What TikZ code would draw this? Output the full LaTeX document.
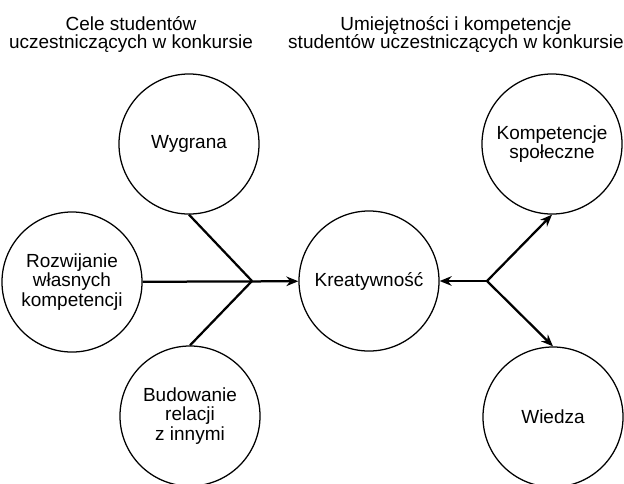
\documentclass[tikz,border=0pt]{standalone}
\usepackage{fontspec}
\setmainfont{Liberation Sans}
\usetikzlibrary{arrows.meta,positioning}

\begin{document}
\begin{tikzpicture}[
    x=0.025cm, y=-0.025cm,
    goal/.style={circle, draw, line width=0.9pt, minimum size=3.5cm, inner sep=0pt, align=center, font=\fontsize{13.5}{13.8}\selectfont},
    title/.style={align=center, font=\fontsize{13.5}{12.8}\selectfont},
    link/.style={line width=1.6pt},
    arrow/.style={-{Stealth[length=3mm, width=2.4mm]}, line width=1.6pt}
]
\useasboundingbox (0,0) rectangle (624,483);

\node[title] (tleft) at (131,34) {Cele studentów\\uczestniczących w konkursie};
\node[title] (tright) at (456,34) {Umiejętności i kompetencje\\studentów uczestniczących w konkursie};

\node[goal] (wyg) at (189,144) {Wygrana};
\node[goal] (rozw) at (72,282) {Rozwijanie\\własnych\\kompetencji};
\node[goal] (bud) at (190,416) {Budowanie\\relacji\\z innymi};
\node[goal] (krea) at (369,281) {Kreatywność};
\node[goal] (komp) at (552,144) {Kompetencje\\społeczne};
\node[goal] (wiedza) at (553,417) {Wiedza};

\coordinate (jleft) at (252,281);
\coordinate (jright) at (487,281);

\draw[link] (wyg.south) -- (jleft);
\draw[link] (bud.north) -- (jleft);
\draw[arrow] (rozw) -- (krea);
\draw[arrow] (jright) -- (krea);
\draw[arrow] (jright) -- (komp.south);
\draw[arrow] (jright) -- (wiedza.north);
\end{tikzpicture}
\end{document}
